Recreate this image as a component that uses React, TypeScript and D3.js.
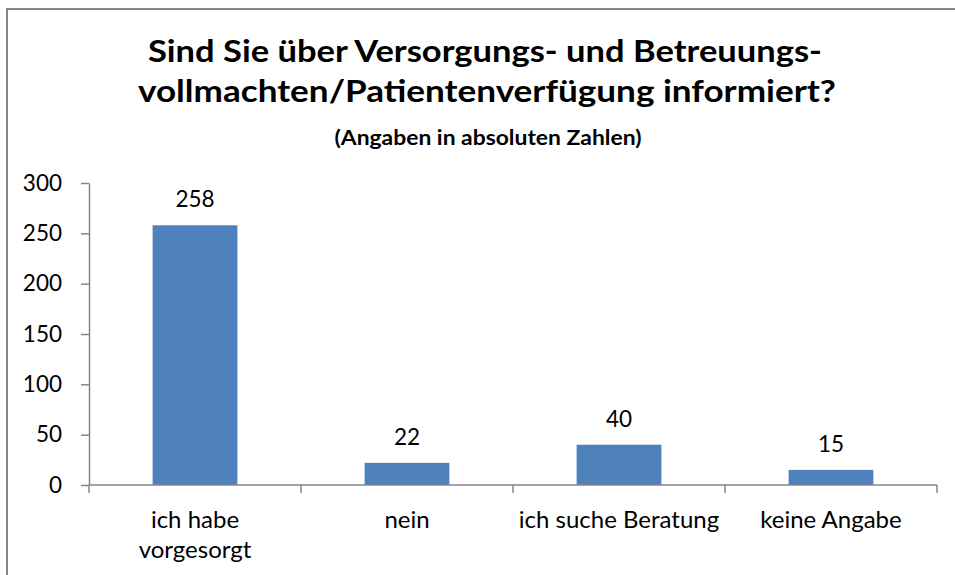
import { useEffect, useRef } from 'react';
import * as d3 from 'd3';

const categories = ['ich habe\nvorgesorgt', 'nein', 'ich suche Beratung', 'keine Angabe'];
const values = [258, 22, 40, 15];
const yTicks = [0, 50, 100, 150, 200, 250, 300];
const titleLines = ['Sind Sie über Versorgungs- und Betreuungs-', 'vollmachten/Patientenverfügung informiert?'];
const subtitle = '(Angaben in absoluten Zahlen)';

const W = 955;
const H = 575;
const FONT = 'Lato, Carlito, Calibri, sans-serif';
const AXIS = '#868686';
const BAR = '#4F81BD';

export default function App() {
  const svgRef = useRef<SVGSVGElement>(null);

  useEffect(() => {
    if (!svgRef.current) return;
    const svg = d3.select(svgRef.current);
    svg.selectAll('*').remove();

    // chart area frame (runs off the right and bottom edge)
    svg.append('rect')
      .attr('x', 7).attr('y', 9)
      .attr('width', W + 20).attr('height', H + 20)
      .attr('fill', '#fff')
      .attr('stroke', AXIS)
      .attr('stroke-width', 2);

    const margin = { top: 183, right: 18, bottom: 90, left: 89 };
    const x = d3.scaleBand<string>()
      .domain(categories)
      .range([margin.left, W - margin.right])
      .paddingInner(0.6)
      .paddingOuter(0.3);
    const y = d3.scaleLinear()
      .domain([0, 300])
      .range([H - margin.bottom, margin.top]);

    // title, stretched to the widths of the original lines
    const titleWidths = [674, 698];
    const titleCx = [485, 487];
    titleLines.forEach((t, i) => {
      svg.append('text')
        .attr('x', titleCx[i]).attr('y', 62 + i * 40)
        .attr('text-anchor', 'middle')
        .attr('font-family', FONT)
        .attr('font-weight', 'bold')
        .attr('font-size', 30)
        .attr('textLength', titleWidths[i])
        .attr('lengthAdjust', 'spacingAndGlyphs')
        .text(t);
    });
    svg.append('text')
      .attr('x', 488).attr('y', 145)
      .attr('text-anchor', 'middle')
      .attr('font-family', FONT)
      .attr('font-weight', 'bold')
      .attr('font-size', 20)
      .attr('textLength', 307)
      .attr('lengthAdjust', 'spacingAndGlyphs')
      .text(subtitle);

    // bars
    svg.selectAll('.bar')
      .data(values)
      .enter().append('rect')
      .attr('class', 'bar')
      .attr('x', (d, i) => x(categories[i])!)
      .attr('y', d => y(d))
      .attr('width', x.bandwidth())
      .attr('height', d => y(0) - y(d))
      .attr('fill', BAR);

    // value labels
    svg.selectAll('.val')
      .data(values)
      .enter().append('text')
      .attr('class', 'val')
      .attr('x', (d, i) => x(categories[i])! + x.bandwidth() / 2)
      .attr('y', d => y(d) - 18)
      .attr('text-anchor', 'middle')
      .attr('font-family', FONT)
      .attr('font-size', 22.5)
      .text(d => d);

    // y axis
    const yAxis = svg.append('g')
      .attr('transform', `translate(${margin.left},0)`)
      .call(d3.axisLeft(y).tickValues(yTicks).tickSize(8).tickPadding(19).tickSizeOuter(0));
    yAxis.select('.domain').attr('stroke', AXIS).attr('stroke-width', 1.5);
    yAxis.selectAll('.tick line').attr('stroke', AXIS).attr('stroke-width', 1.5);
    yAxis.selectAll('.tick text')
      .attr('font-family', FONT)
      .attr('font-size', 22.5)
      .attr('fill', '#000');

    // x axis with boundary ticks
    const bottom = y(0);
    const xa = svg.append('g');
    xa.append('line')
      .attr('x1', margin.left).attr('x2', W - margin.right)
      .attr('y1', bottom).attr('y2', bottom)
      .attr('stroke', AXIS).attr('stroke-width', 1.5);
    const bounds = d3.range(categories.length + 1).map(i => margin.left + i * x.step());
    xa.selectAll('.xt')
      .data(bounds)
      .enter().append('line')
      .attr('x1', d => d).attr('x2', d => d)
      .attr('y1', bottom).attr('y2', bottom + 8)
      .attr('stroke', AXIS).attr('stroke-width', 1.5);

    const labels = xa.selectAll('.xl')
      .data(categories)
      .enter().append('text')
      .attr('text-anchor', 'middle')
      .attr('font-family', FONT)
      .attr('font-size', 24)
      .attr('fill', '#000');
    labels.each(function (c) {
      const lines = c.split('\n');
      lines.forEach((l, i) => {
        d3.select(this).append('tspan')
          .attr('x', x(c)! + x.bandwidth() / 2)
          .attr('y', bottom + 43 + i * 30)
          .text(l);
      });
    });
  }, []);

  return (
    <svg
      ref={svgRef}
      width={W}
      height={H}
      style={{ position: 'absolute', left: 0, top: 0, display: 'block' }}
    />
  );
}
